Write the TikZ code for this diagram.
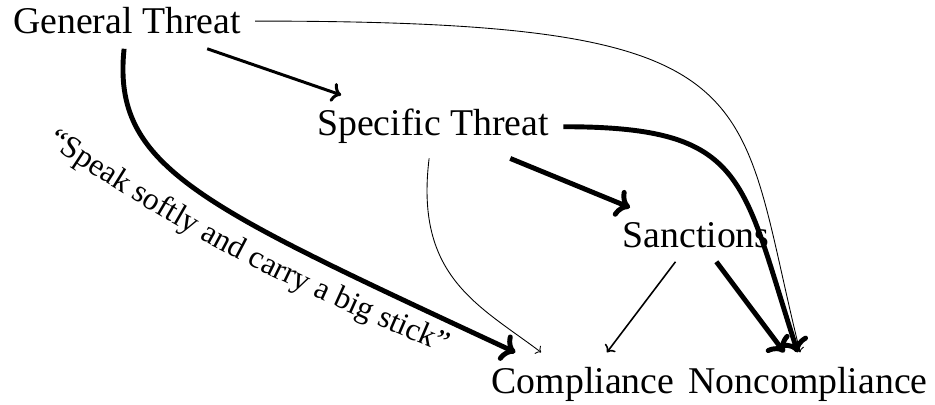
\documentclass[tikz,border=0pt]{standalone}
\usepackage{fontspec}
\setmainfont{Liberation Serif}
\usetikzlibrary{arrows.meta}
\usetikzlibrary{decorations.text}

\newcommand{\labelsize}{\fontsize{21.5}{25}\selectfont}
\newcommand{\sayingsize}{\fontsize{18}{21}\selectfont}

\tikzset{
  state/.style={font=\labelsize, inner sep=8pt, anchor=base},
  weak/.style={-{To}, line width=0.5pt},
  fair/.style={-{To}, line width=0.9pt},
  mid/.style={-{To}, line width=1.7pt},
  strong/.style={-{To}, line width=2.8pt}
}

\begin{document}
\begin{tikzpicture}[x=0.02cm, y=-0.02cm]
\useasboundingbox (0,0) rectangle (935,405);

\node[state] (gt) at (127,34) {General Threat};
\node[state] (st) at (433,136) {Specific Threat};
\node[state] (sa) at (696,247) {Sanctions};
\node[state] (co) at (583,393) {Compliance};
\node[state] (nc) at (808,393) {Noncompliance};

\draw[mid] (gt) -- (st);
\draw[strong] (st) -- (sa);
\draw[weak] (gt) to[out=0, in=104, out looseness=2.1, in looseness=1.1] (nc);
\draw[strong] (st) to[out=0, in=108, looseness=1.45] (nc);
\draw[strong] (gt) to[out=-96, in=155, out looseness=0.62, in looseness=1.8] (co);
\draw[weak] (st) to[out=-97, in=143, out looseness=1.36, in looseness=0.9] (co);
\draw[fair] (sa) -- (co);
\draw[strong] (sa) -- (nc);

% the saying along the big stick
\coordinate (q1) at (47,144);
\coordinate (q2) at (440,352);
\path[decorate, decoration={text along path,
  text={|\sayingsize|“Speak softly and carry a big stick”}}]
  (q1) to[out=-34, in=157] (q2);
\end{tikzpicture}
\end{document}
